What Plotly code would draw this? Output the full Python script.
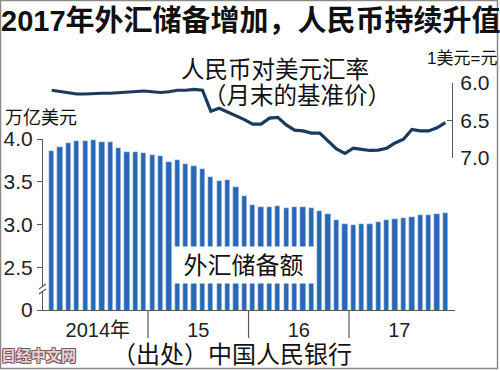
import plotly.graph_objects as go

# ---- data ----
months = list(range(48))  # 2014-01 .. 2017-12
reserves = [3.86, 3.91, 3.95, 3.98, 3.98, 3.99, 3.97, 3.97, 3.89, 3.85, 3.85, 3.84,
            3.81, 3.80, 3.73, 3.75, 3.71, 3.69, 3.65, 3.56, 3.51, 3.52, 3.44, 3.33,
            3.23, 3.20, 3.21, 3.22, 3.19, 3.20, 3.20, 3.19, 3.16, 3.12, 3.05, 3.01,
            3.00, 3.01, 3.01, 3.03, 3.05, 3.06, 3.08, 3.09, 3.11, 3.11, 3.12, 3.14]
rate = [6.10, 6.12, 6.14, 6.15, 6.15, 6.14, 6.14, 6.14, 6.13, 6.13, 6.12, 6.11,
        6.12, 6.13, 6.12, 6.10, 6.10, 6.09, 6.10, 6.38, 6.34, 6.39, 6.43, 6.49,
        6.55, 6.55, 6.47, 6.46, 6.56, 6.63, 6.64, 6.67, 6.67, 6.78, 6.88, 6.94,
        6.87, 6.885, 6.90, 6.895, 6.87, 6.80, 6.75, 6.62, 6.64, 6.64, 6.60, 6.53]
year_pos = [5.5, 17.5, 29.5, 41.5]
year_labels = ["2014年", "15", "16", "17"]
year_dividers = [11.5, 23.5, 35.5]
left_tickvals = [2.0, 2.5, 3.0, 3.5, 4.0]
left_ticktext = ["0", "2.5", "3.0", "3.5", "4.0"]
right_tickvals = [6.0, 6.5, 7.0]
right_ticktext = ["6.0", "6.5", "7.0"]

W, H = 500, 371
L, R, T, B = 43, 45, 80, 61
PW, PH = W - L - R, H - T - B


def px(x):
    return (x - L) / PW


def py(y):
    return (H - B - y) / PH


CJK = "Liberation Sans, Noto Sans CJK SC, sans-serif"
BAR_C = "#2a68b3"
LINE_C = "#1c3a5c"
AX_C = "#5a5a5a"

fig = go.Figure()
fig.add_trace(go.Bar(x=months, y=reserves, marker_color=BAR_C, width=0.63,
                     yaxis="y", hoverinfo="skip"))
fig.add_trace(go.Scatter(x=months, y=rate, mode="lines", yaxis="y2",
                         line=dict(color=LINE_C, width=3.2), hoverinfo="skip"))

fig.update_layout(
    width=W, height=H,
    margin=dict(l=L, r=R, t=T, b=B, autoexpand=False),
    paper_bgcolor="white", plot_bgcolor="rgba(0,0,0,0)",
    showlegend=False,
    font=dict(family=CJK, color="#111"),
    xaxis=dict(range=[-1.04, 48.15], tickvals=year_pos, ticktext=year_labels,
               ticks="", showgrid=False, zeroline=False, showline=True,
               linecolor=AX_C, linewidth=1.2, tickfont=dict(size=20, color="#222"),
               ticklabelstandoff=2, automargin=False),
    yaxis=dict(domain=[0, py(139)], range=[2.0, 4.0], tickvals=left_tickvals,
               ticktext=left_ticktext, ticks="outside", ticklen=5, tickcolor=AX_C,
               showgrid=False, zeroline=False, showline=True, linecolor=AX_C,
               linewidth=1.2, tickfont=dict(size=21, color="#222"), automargin=False),
    yaxis2=dict(domain=[py(158), py(82.7)], range=[7.0, 6.0], anchor="free",
                position=px(452), side="right", tickvals=right_tickvals,
                ticktext=right_ticktext, ticks="inside", ticklen=5, tickcolor=AX_C,
                showgrid=False, zeroline=False, showline=True, linecolor=AX_C,
                linewidth=1.2, tickfont=dict(size=21, color="#222"),
                ticklabelstandoff=3, automargin=False),
    bargap=0,
)

shapes = []
for d in year_dividers:
    shapes.append(dict(type="line", xref="x", yref="paper", x0=d, x1=d,
                       y0=0, y1=py(338), line=dict(color=AX_C, width=1.2)))
# axis break mark
shapes.append(dict(type="rect", xref="paper", yref="paper", x0=px(38), x1=px(47),
                   y0=py(292), y1=py(286), fillcolor="white", line=dict(width=0),
                   layer="above"))
shapes.append(dict(type="line", xref="paper", yref="paper", x0=px(39), x1=px(46),
                   y0=py(289), y1=py(284), line=dict(color=AX_C, width=1.2)))
shapes.append(dict(type="line", xref="paper", yref="paper", x0=px(39), x1=px(46),
                   y0=py(294), y1=py(289), line=dict(color=AX_C, width=1.2)))
# frame
shapes.append(dict(type="rect", xref="paper", yref="paper", x0=px(0.5), x1=px(497.5),
                   y0=py(368.5), y1=py(0.5), line=dict(color="#8a8a8a", width=1.5)))
fig.update_layout(shapes=shapes)

ann = []


def text(s, x, y, size, **kw):
    d = dict(text=s, xref="paper", yref="paper", x=px(x), y=py(y), showarrow=False,
             xanchor=kw.pop("xanchor", "center"), yanchor="middle",
             font=dict(family=CJK, size=size, color=kw.pop("color", "#111"),
                       weight=kw.pop("weight", "normal"), **kw.pop("fkw", {})))
    d.update(kw)
    ann.append(d)


text("2017年外汇储备增加，人民币持续升值", 251, 21, 29, weight="bold")
text("人民币对美元汇率", 275, 70, 23.5)
text("（月末的基准价）", 297, 96, 23.5)
text("1美元=元", 462, 58, 17)
text("万亿美元", 41, 118, 18)
text("（出处）中国人民银行", 232, 354, 24)
text("外汇储备额", 243, 265, 24, bgcolor="white", width=139, height=34)
text("日经中文网", 38, 355, 15, weight="bold", color="#ead0d0",
     fkw=dict(shadow="-1px -1px 0 #7a5a60, 1px -1px 0 #7a5a60, -1px 1px 0 #7a5a60, 1px 1px 0 #7a5a60"))
fig.update_layout(annotations=ann)

fig.write_html("out.html", config=dict(displayModeBar=False),
               post_script="document.body.style.margin='0';document.body.style.overflow='hidden';")
